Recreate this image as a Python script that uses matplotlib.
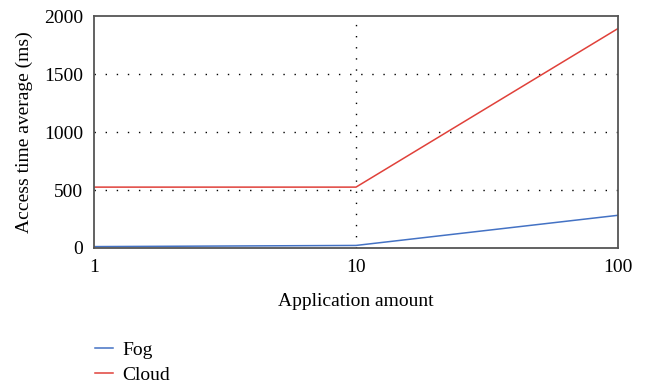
import matplotlib.pyplot as plt

plt.rcParams['font.family'] = ['Liberation Serif', 'DejaVu Serif']
plt.rcParams['font.size'] = 14

apps = [1, 10, 100]
fog = [12, 22, 282]
cloud = [525, 525, 1893]

fig = plt.figure(figsize=(6.54, 3.83), dpi=100)
ax = fig.add_axes([0.1437, 0.3525, 0.8013, 0.6055])

ax.plot(apps, fog, color='#4472c4', lw=1.1, label='Fog')
ax.plot(apps, cloud, color='#e0413a', lw=1.1, label='Cloud')

ax.set_xscale('log')
ax.set_xlim(1, 100)
ax.set_ylim(0, 2000)
ax.set_xticks(apps)
ax.set_xticklabels(['1', '10', '100'])
ax.set_yticks([0, 500, 1000, 1500, 2000])
ax.minorticks_off()
ax.tick_params(length=0, pad=8)

for v in [500, 1000, 1500]:
    ax.axhline(v, color='black', ls=(0, (1, 7)), lw=1, zorder=0)
ax.axvline(10, color='black', ls=(0, (1, 7)), lw=1, zorder=0)

for s in ax.spines.values():
    s.set_color('#555555')
    s.set_linewidth(1.3)

ax.set_xlabel('Application amount', labelpad=12)
ax.set_ylabel('Access time average (ms)', labelpad=8)

fig.legend(loc='upper left', bbox_to_anchor=(0.125, 0.145), frameon=False,
           handlelength=0.9, handletextpad=0.5, labelspacing=0.4,
           borderpad=0.2, bbox_transform=fig.transFigure)

fig.savefig('out.png')
